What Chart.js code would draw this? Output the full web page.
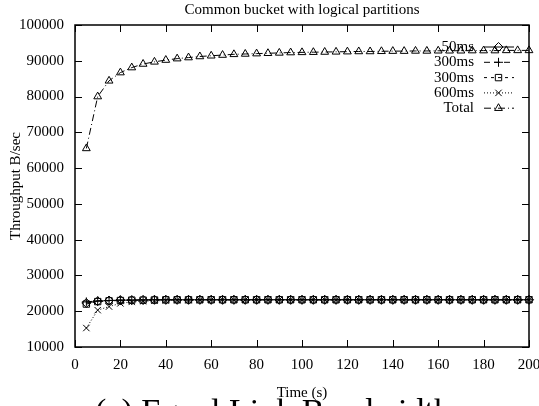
<!DOCTYPE html>
<html>
<head>
<meta charset="utf-8">
<script src="https://cdn.jsdelivr.net/npm/chart.js@4/dist/chart.umd.min.js"></script>
<style>
  html, body { margin: 0; padding: 0; background: #fff; }
  canvas { display: block; }
</style>
</head>
<body>
<canvas id="c" width="539" height="406"></canvas>
<script>
// Sample times (s)
const times = [5, 10, 15, 20, 25, 30, 35, 40, 45, 50, 55, 60, 65, 70, 75, 80, 85, 90, 95, 100,
               105, 110, 115, 120, 125, 130, 135, 140, 145, 150, 155, 160, 165, 170, 175, 180, 185, 190, 195, 200];

// Throughput per bucket (B/sec)
const ms50 = [22300, 22800, 23000, 23100, 23100, 23150, 23200, 23200, 23200, 23200,
              23200, 23200, 23200, 23200, 23200, 23200, 23200, 23200, 23200, 23200,
              23200, 23200, 23200, 23200, 23200, 23200, 23200, 23200, 23200, 23200,
              23200, 23200, 23200, 23200, 23200, 23200, 23200, 23200, 23200, 23200];
const ms300a = [22600, 22900, 23000, 23100, 23100, 23150, 23200, 23200, 23200, 23200,
                23200, 23200, 23200, 23200, 23200, 23200, 23200, 23200, 23200, 23200,
                23200, 23200, 23200, 23200, 23200, 23200, 23200, 23200, 23200, 23200,
                23200, 23200, 23200, 23200, 23200, 23200, 23200, 23200, 23200, 23200];
const ms300b = [22000, 22700, 22900, 23000, 23100, 23100, 23150, 23200, 23200, 23200,
                23200, 23200, 23200, 23200, 23200, 23200, 23200, 23200, 23200, 23200,
                23200, 23200, 23200, 23200, 23200, 23200, 23200, 23200, 23200, 23200,
                23200, 23200, 23200, 23200, 23200, 23200, 23200, 23200, 23200, 23200];
const ms600 = [15300, 20300, 21300, 22200, 22600, 22800, 22900, 23000, 23100, 23100,
               23150, 23200, 23200, 23200, 23200, 23200, 23200, 23200, 23200, 23200,
               23200, 23200, 23200, 23200, 23200, 23200, 23200, 23200, 23200, 23200,
               23200, 23200, 23200, 23200, 23200, 23200, 23200, 23200, 23200, 23200];
const total = [65500, 80000, 84400, 86700, 88100, 89100, 89700, 90200, 90600, 90900,
               91200, 91400, 91600, 91800, 91900, 92000, 92100, 92200, 92300, 92350,
               92400, 92450, 92500, 92550, 92600, 92600, 92650, 92700, 92700, 92750,
               92750, 92800, 92800, 92800, 92850, 92850, 92850, 92900, 92900, 92900];

const seriesLabels = ['50ms', '300ms', '300ms', '600ms', 'Total'];
const xTicks = [0, 20, 40, 60, 80, 100, 120, 140, 160, 180, 200];
const yTicks = [10000, 20000, 30000, 40000, 50000, 60000, 70000, 80000, 90000, 100000];

const FONT = '"Liberation Serif", "Times New Roman", serif';

const styles = [
  { pointStyle: 'rectRot',  dash: [] },
  { pointStyle: 'cross',    dash: [6, 4] },
  { pointStyle: 'rect',     dash: [3, 4] },
  { pointStyle: 'crossRot', dash: [1, 2] },
  { pointStyle: 'triangle', dash: [7, 3, 1, 3] }
];

const seriesValues = [ms50, ms300a, ms300b, ms600, total];

const datasets = seriesValues.map((vals, i) => ({
  label: seriesLabels[i],
  data: times.map((t, k) => ({ x: t, y: vals[k] })),
  borderColor: '#000',
  borderWidth: 1,
  borderDash: styles[i].dash,
  pointStyle: styles[i].pointStyle,
  pointRadius: 4.5,
  pointBorderWidth: 1,
  pointBorderColor: '#000',
  pointBackgroundColor: 'rgba(0,0,0,0)',
  tension: 0,
  clip: false,
  fill: false
}));

function drawMarker(ctx, style, x, y, r) {
  if (Chart.helpers && Chart.helpers.drawPoint) {
    ctx.fillStyle = 'rgba(0,0,0,0)';
    ctx.strokeStyle = '#000';
    ctx.lineWidth = 1;
    Chart.helpers.drawPoint(ctx, { pointStyle: style, radius: r, borderWidth: 1, rotation: 0 }, x, y);
  }
}

// Frame, inward ticks, titles, legend and caption
const decorations = {
  id: 'decorations',
  afterDatasetsDraw(chart) {
    const { ctx, chartArea: a, scales } = chart;
    ctx.save();
    ctx.strokeStyle = '#000';
    ctx.fillStyle = '#000';
    ctx.setLineDash([]);
    ctx.lineWidth = 1;
    const tl = 7;
    ctx.beginPath();
    xTicks.forEach(v => {
      const px = Math.round(scales.x.getPixelForValue(v)) + 0.5;
      ctx.moveTo(px, a.bottom); ctx.lineTo(px, a.bottom - tl);
      ctx.moveTo(px, a.top); ctx.lineTo(px, a.top + tl);
    });
    yTicks.forEach(v => {
      const py = Math.round(scales.y.getPixelForValue(v)) + 0.5;
      ctx.moveTo(a.left, py); ctx.lineTo(a.left + tl, py);
      ctx.moveTo(a.right, py); ctx.lineTo(a.right - tl, py);
    });
    ctx.stroke();

    ctx.lineWidth = 1.5;
    ctx.strokeRect(a.left, a.top, a.right - a.left, a.bottom - a.top);

    // legend
    ctx.font = '15px ' + FONT;
    ctx.textBaseline = 'middle';
    chart.data.datasets.forEach((ds, i) => {
      const y = 47 + i * 15.3;
      ctx.fillStyle = '#000';
      ctx.textAlign = 'right';
      ctx.fillText(ds.label, 474, y);
      ctx.lineWidth = 1;
      ctx.setLineDash(ds.borderDash);
      ctx.beginPath();
      ctx.moveTo(484, y); ctx.lineTo(514, y);
      ctx.stroke();
      ctx.setLineDash([]);
      drawMarker(ctx, ds.pointStyle, 498.5, y, 4.5);
    });

    // titles
    const cx = (a.left + a.right) / 2;
    ctx.fillStyle = '#000';
    ctx.textAlign = 'center';
    ctx.font = '15px ' + FONT;
    ctx.fillText('Common bucket with logical partitions', cx, 10);
    ctx.fillText('Time (s)', cx, 393);
    ctx.save();
    ctx.translate(16, (a.top + a.bottom) / 2);
    ctx.rotate(-Math.PI / 2);
    ctx.fillText('Throughput B/sec', 0, 0);
    ctx.restore();

    // figure caption
    ctx.textAlign = 'left';
    ctx.textBaseline = 'alphabetic';
    ctx.font = '34px ' + FONT;
    ctx.fillText('(a) Equal Link Bandwidth', 95, 422);
    ctx.restore();
  }
};

new Chart(document.getElementById('c'), {
  type: 'line',
  data: { datasets },
  options: {
    responsive: false,
    animation: false,
    devicePixelRatio: 1,
    layout: { padding: { top: 25, right: 10, left: 0, bottom: 0 } },
    plugins: { legend: { display: false }, title: { display: false }, tooltip: { enabled: false } },
    scales: {
      x: {
        type: 'linear', min: 0, max: 200,
        afterBuildTicks: s => { s.ticks = xTicks.map(v => ({ value: v })); },
        afterFit: s => { s.height = 59; s.paddingLeft = 0; s.paddingRight = 0; },
        grid: { display: false, drawTicks: false },
        border: { display: false },
        ticks: { color: '#000', font: { family: FONT, size: 15 }, padding: 9, maxRotation: 0, autoSkip: false }
      },
      y: {
        type: 'linear', min: 10000, max: 100000,
        afterBuildTicks: s => { s.ticks = yTicks.map(v => ({ value: v })); },
        afterFit: s => { s.width = 75; s.paddingTop = 0; s.paddingBottom = 0; },
        grid: { display: false, drawTicks: false },
        border: { display: false },
        ticks: { color: '#000', font: { family: FONT, size: 15 }, padding: 11, autoSkip: false,
                 callback: v => String(v) }
      }
    }
  },
  plugins: [decorations]
});
</script>
</body>
</html>
